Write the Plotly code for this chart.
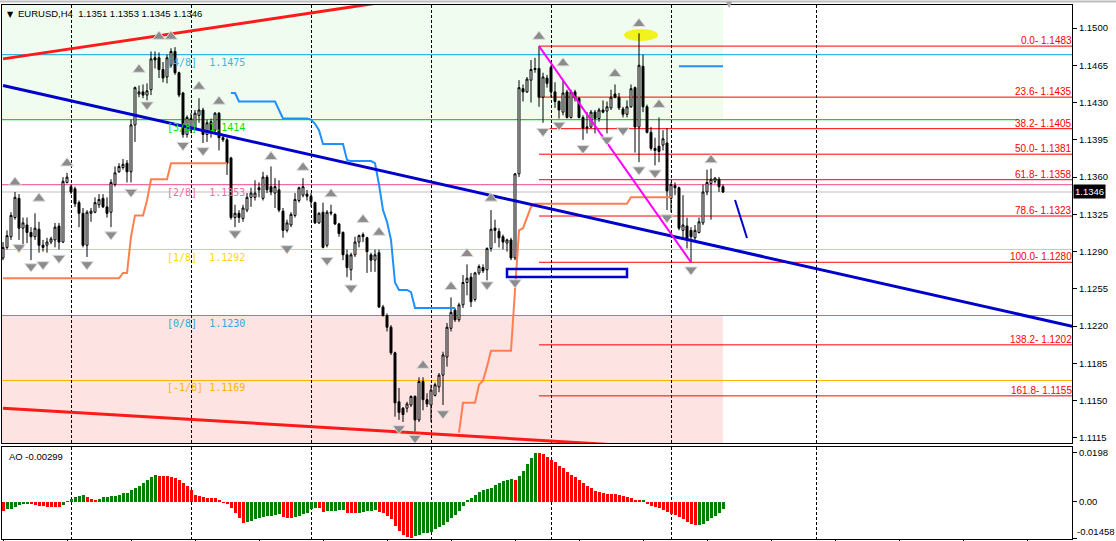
import plotly.graph_objects as go

# ---------------- data ----------------
bars = list(range(181))
opens = [1.1284,1.1294,1.1304,1.1322,1.1340,1.1312,1.1315,1.1308,1.1304,1.1311,
1.1296,1.1296,1.1299,1.1301,1.1314,1.1299,1.1355,1.1351,1.1349,1.1336,
1.1326,1.1296,1.1326,1.1327,1.1334,1.1340,1.1332,1.1327,1.1353,1.1365,
1.1369,1.1373,1.1365,1.1409,1.1438,1.1440,1.1437,1.1442,1.1472,1.1472,
1.1461,1.1454,1.1465,1.1478,1.1458,1.1439,1.1400,1.1404,1.1406,1.1418,
1.1423,1.1400,1.1412,1.1404,1.1420,1.1397,1.1395,1.1378,1.1322,1.1326,
1.1321,1.1329,1.1341,1.1341,1.1350,1.1340,1.1360,1.1351,1.1345,1.1348,
1.1328,1.1310,1.1315,1.1324,1.1338,1.1343,1.1344,1.1342,1.1336,1.1317,
1.1327,1.1296,1.1326,1.1325,1.1316,1.1308,1.1287,1.1273,1.1287,1.1299,
1.1306,1.1303,1.1287,1.1282,1.1289,1.1238,1.1230,1.1219,1.1195,1.1149,
1.1143,1.1143,1.1146,1.1154,1.1132,1.1168,1.1151,1.1146,1.1155,1.1163,
1.1174,1.1191,1.1218,1.1235,1.1226,1.1240,1.1261,1.1266,1.1245,1.1270,
1.1275,1.1273,1.1293,1.1312,1.1309,1.1304,1.1298,1.1301,1.1284,1.1363,
1.1443,1.1440,1.1451,1.1461,1.1462,1.1435,1.1453,1.1463,1.1440,1.1431,
1.1421,1.1440,1.1416,1.1440,1.1434,1.1416,1.1406,1.1407,1.1421,1.1415,
1.1423,1.1422,1.1425,1.1438,1.1435,1.1424,1.1419,1.1426,1.1444,1.1407,
1.1464,1.1426,1.1402,1.1387,1.1389,1.1390,1.1392,1.1340,1.1352,1.1350,
1.1310,1.1314,1.1310,1.1303,1.1308,1.1317,1.1346,1.1354,1.1356,1.1358,
1.1351]
highs = [1.1299,1.1310,1.1327,1.1346,1.1344,1.1322,1.1322,1.1313,1.1326,1.1318,
1.1301,1.1303,1.1304,1.1317,1.1317,1.1360,1.1364,1.1353,1.1351,1.1338,
1.1331,1.1329,1.1331,1.1341,1.1344,1.1344,1.1341,1.1358,1.1370,1.1373,
1.1377,1.1376,1.1414,1.1445,1.1446,1.1447,1.1448,1.1478,1.1478,1.1477,
1.1468,1.1475,1.1481,1.1482,1.1459,1.1440,1.1418,1.1420,1.1423,1.1434,
1.1425,1.1414,1.1415,1.1421,1.1421,1.1400,1.1397,1.1379,1.1334,1.1329,
1.1334,1.1345,1.1350,1.1357,1.1355,1.1365,1.1362,1.1370,1.1359,1.1357,
1.1331,1.1320,1.1327,1.1345,1.1351,1.1359,1.1348,1.1345,1.1337,1.1327,
1.1336,1.1329,1.1334,1.1326,1.1317,1.1309,1.1292,1.1289,1.1304,1.1306,
1.1308,1.1304,1.1289,1.1292,1.1292,1.1240,1.1232,1.1221,1.1196,1.1162,
1.1144,1.1149,1.1155,1.1155,1.1172,1.1172,1.1157,1.1165,1.1167,1.1176,
1.1196,1.1223,1.1247,1.1237,1.1242,1.1268,1.1278,1.1270,1.1271,1.1278,
1.1278,1.1294,1.1329,1.1320,1.1312,1.1306,1.1302,1.1303,1.1364,1.1451,
1.1447,1.1454,1.1470,1.1472,1.1483,1.1458,1.1456,1.1465,1.1449,1.1432,
1.1451,1.1442,1.1442,1.1442,1.1435,1.1418,1.1421,1.1423,1.1423,1.1425,
1.1432,1.1431,1.1442,1.1447,1.1439,1.1426,1.1432,1.1447,1.1445,1.1495,
1.1475,1.1428,1.1407,1.1397,1.1416,1.1404,1.1406,1.1355,1.1355,1.1351,
1.1343,1.1322,1.1313,1.1315,1.1322,1.1353,1.1367,1.1368,1.1360,1.1360,
1.1353]
lows = [1.1282,1.1292,1.1301,1.1320,1.1301,1.1294,1.1298,1.1282,1.1301,1.1289,
1.1290,1.1289,1.1297,1.1294,1.1292,1.1298,1.1354,1.1344,1.1332,1.1313,
1.1294,1.1285,1.1318,1.1326,1.1331,1.1331,1.1322,1.1313,1.1351,1.1364,
1.1367,1.1355,1.1355,1.1393,1.1435,1.1434,1.1432,1.1437,1.1462,1.1453,
1.1449,1.1448,1.1463,1.1456,1.1435,1.1397,1.1397,1.1401,1.1404,1.1411,
1.1392,1.1393,1.1397,1.1401,1.1385,1.1393,1.1362,1.1320,1.1313,1.1317,
1.1318,1.1327,1.1332,1.1338,1.1341,1.1338,1.1345,1.1343,1.1331,1.1327,
1.1303,1.1308,1.1313,1.1322,1.1336,1.1341,1.1338,1.1332,1.1316,1.1316,
1.1293,1.1294,1.1324,1.1315,1.1304,1.1282,1.1266,1.1263,1.1285,1.1294,
1.1299,1.1270,1.1271,1.1271,1.1237,1.1229,1.1215,1.1193,1.1135,1.1132,
1.1130,1.1139,1.1144,1.1121,1.1130,1.1141,1.1144,1.1130,1.1154,1.1158,
1.1146,1.1182,1.1215,1.1224,1.1224,1.1237,1.1249,1.1238,1.1243,1.1268,
1.1270,1.1263,1.1290,1.1298,1.1294,1.1292,1.1290,1.1282,1.1282,1.1360,
1.1431,1.1439,1.1430,1.1458,1.1426,1.1411,1.1444,1.1435,1.1425,1.1415,
1.1418,1.1415,1.1415,1.1431,1.1415,1.1395,1.1401,1.1406,1.1401,1.1412,
1.1420,1.1401,1.1423,1.1434,1.1423,1.1416,1.1416,1.1425,1.1383,1.1374,
1.1421,1.1401,1.1385,1.1371,1.1374,1.1385,1.1329,1.1327,1.1343,1.1310,
1.1303,1.1293,1.1280,1.1301,1.1307,1.1315,1.1343,1.1320,1.1354,1.1346,
1.1345]
closes = [1.1294,1.1305,1.1324,1.1341,1.1312,1.1317,1.1308,1.1304,1.1312,1.1296,
1.1294,1.1299,1.1302,1.1313,1.1299,1.1356,1.1360,1.1346,1.1335,1.1326,
1.1296,1.1327,1.1328,1.1336,1.1339,1.1332,1.1326,1.1355,1.1364,1.1370,
1.1372,1.1365,1.1409,1.1444,1.1440,1.1437,1.1441,1.1471,1.1470,1.1461,
1.1453,1.1472,1.1478,1.1458,1.1437,1.1400,1.1416,1.1415,1.1420,1.1423,
1.1400,1.1411,1.1402,1.1420,1.1397,1.1395,1.1373,1.1322,1.1326,1.1322,
1.1331,1.1341,1.1345,1.1345,1.1348,1.1360,1.1348,1.1346,1.1351,1.1329,
1.1310,1.1317,1.1325,1.1339,1.1350,1.1351,1.1342,1.1337,1.1317,1.1326,
1.1294,1.1327,1.1327,1.1316,1.1307,1.1287,1.1275,1.1287,1.1299,1.1305,
1.1304,1.1290,1.1282,1.1287,1.1238,1.1230,1.1219,1.1195,1.1148,1.1139,
1.1137,1.1147,1.1154,1.1132,1.1168,1.1151,1.1147,1.1160,1.1165,1.1174,
1.1193,1.1219,1.1233,1.1226,1.1240,1.1261,1.1265,1.1243,1.1270,1.1276,
1.1272,1.1293,1.1311,1.1310,1.1303,1.1299,1.1301,1.1284,1.1363,1.1444,
1.1440,1.1452,1.1461,1.1462,1.1435,1.1454,1.1448,1.1440,1.1431,1.1423,
1.1439,1.1416,1.1440,1.1434,1.1416,1.1406,1.1407,1.1421,1.1415,1.1423,
1.1421,1.1426,1.1435,1.1435,1.1425,1.1419,1.1426,1.1443,1.1407,1.1465,
1.1426,1.1402,1.1387,1.1385,1.1384,1.1396,1.1347,1.1353,1.1350,1.1312,
1.1315,1.1301,1.1304,1.1310,1.1318,1.1346,1.1355,1.1358,1.1359,1.1351,
1.1346]

ao = [-0.00340,-0.00283,-0.00269,-0.00212,-0.00127,-0.00071,-0.00042,-0.00071,-0.00113,-0.00156,
-0.00170,-0.00184,-0.00191,-0.00198,-0.00205,-0.00127,0.00014,0.00113,0.00184,0.00255,
0.00283,0.00184,0.00113,0.00099,0.00127,0.00212,0.00219,0.00226,0.00255,0.00297,
0.00354,0.00368,0.00467,0.00580,0.00637,0.00778,0.00891,0.01005,0.01090,0.01047,
0.01040,0.01033,0.01019,0.00976,0.00891,0.00778,0.00637,0.00467,0.00297,0.00241,
0.00198,0.00163,0.00156,0.00142,0.00071,-0.00014,-0.00099,-0.00241,-0.00439,-0.00637,
-0.00835,-0.00807,-0.00750,-0.00693,-0.00651,-0.00608,-0.00566,-0.00552,-0.00538,-0.00495,
-0.00594,-0.00623,-0.00637,-0.00608,-0.00566,-0.00481,-0.00425,-0.00283,-0.00241,-0.00255,
-0.00382,-0.00368,-0.00354,-0.00340,-0.00333,-0.00325,-0.00425,-0.00439,-0.00453,-0.00425,
-0.00396,-0.00368,-0.00340,-0.00311,-0.00382,-0.00453,-0.00552,-0.00693,-0.00948,-0.01160,
-0.01302,-0.01415,-0.01458,-0.01373,-0.01316,-0.01259,-0.01231,-0.01203,-0.01090,-0.01019,
-0.00920,-0.00807,-0.00623,-0.00524,-0.00340,-0.00170,0.00071,0.00142,0.00297,0.00382,
0.00467,0.00509,0.00566,0.00679,0.00750,0.00821,0.00891,0.00920,0.00891,0.01033,
0.01245,0.01528,0.01769,0.01980,0.01953,0.01910,0.01811,0.01698,0.01585,0.01457,
0.01344,0.01203,0.01061,0.00991,0.00891,0.00750,0.00651,0.00566,0.00439,0.00382,
0.00354,0.00340,0.00325,0.00311,0.00269,0.00241,0.00184,0.00142,0.00099,0.00071,
0.00085,-0.00042,-0.00142,-0.00184,-0.00241,-0.00311,-0.00382,-0.00467,-0.00524,-0.00594,
-0.00693,-0.00807,-0.00877,-0.00920,-0.00906,-0.00863,-0.00764,-0.00637,-0.00552,-0.00453,
-0.00299]

# coral trailing-stop style line (None = not drawn)
orange_line = [1.1265,1.1265,1.1265,1.1265,1.1265,1.1265,1.1265,1.1265,1.1265,1.1265,
1.1265,1.1265,1.1265,1.1265,1.1265,1.1265,1.1265,1.1265,1.1265,1.1265,
1.1265,1.1265,1.1265,1.1265,1.1265,1.1265,1.1265,1.1265,1.1265,1.1265,
1.1270,1.1270,1.1304,1.1324,1.1324,1.1324,1.1338,1.1358,1.1358,1.1358,
1.1358,1.1358,1.1373,1.1373,1.1373,1.1373,1.1373,1.1373,1.1373,1.1373,
1.1373,1.1373,1.1373,1.1373,1.1373,1.1373,1.1373,None,None,None,
None,None,None,None,None,None,None,None,None,None,
None,None,None,None,None,None,None,None,None,None,
None,None,None,None,None,None,None,None,None,None,
None,None,None,None,None,None,None,None,None,None,
None,None,None,None,None,None,None,None,None,None,
None,None,None,None,1.1120,1.1148,1.1148,1.1148,1.1148,1.1165,
1.1169,1.1182,1.1197,1.1197,1.1197,1.1197,1.1197,1.1197,1.1254,1.1310,
1.1312,1.1323,1.1332,1.1335,1.1335,1.1335,1.1335,1.1335,1.1335,1.1335,
1.1335,1.1335,1.1335,1.1335,1.1335,1.1335,1.1335,1.1335,1.1335,1.1335,
1.1335,1.1335,1.1335,1.1335,1.1335,1.1335,1.1335,1.1341,1.1341,1.1341,
1.1341,1.1341,1.1341,1.1341,1.1341,1.1341,1.1341,1.1341,None,None,
None,None,None,None,None,None,None,None,None,None,
None]
# dodger-blue step line
blue_step = [None,None,None,None,None,None,None,None,None,None,
None,None,None,None,None,None,None,None,None,None,
None,None,None,None,None,None,None,None,None,None,
None,None,None,None,None,None,None,None,None,None,
None,None,None,None,None,None,None,None,None,None,
None,None,None,None,None,None,None,1.1439,1.1439,1.1431,
1.1431,1.1431,1.1431,1.1431,1.1431,1.1431,1.1431,1.1431,1.1431,1.1423,
1.1415,1.1415,1.1415,1.1415,1.1415,1.1415,1.1415,1.1414,1.1410,1.1404,
1.1391,1.1391,1.1391,1.1391,1.1391,1.1391,1.1376,1.1375,1.1375,1.1375,
1.1375,1.1375,1.1375,1.1373,1.1353,1.1329,1.1318,1.1301,1.1261,1.1254,
1.1254,1.1254,1.1252,1.1237,1.1237,1.1237,1.1237,1.1237,1.1237,1.1237,
1.1237,1.1237,1.1237,1.1237,None,None,None,None,None,None,
None,None,None,None,None,None,None,None,None,None,
None,None,None,None,None,None,None,None,None,None,
None,None,None,None,None,None,None,None,None,None,
None,None,None,None,None,None,None,None,None,None,
None,None,None,None,None,None,None,None,None,1.1464,
1.1464,1.1464,1.1464,1.1464,1.1464,1.1464,1.1464,1.1464,1.1464,1.1464,
1.1464]

up_fractal_bar = [3,9,16,34,39,42,49,54,67,75,82,90,94,105,112,116,122,134,140,153,159,164,177]
up_fractal_px = [1.1355,1.1340,1.1373,1.1461,1.1492,1.1492,1.1445,1.1431,1.1379,1.1369,1.1344,
                 1.1320,1.1308,1.1183,1.1257,1.1288,1.1340,1.1492,1.1467,1.1457,1.1504,1.1428,1.1376]
dn_fractal_bar = [4,7,10,14,21,27,32,36,45,50,58,71,81,87,99,103,110,121,128,135,139,145,151,155,159,163,166,172]
dn_fractal_px = [1.1294,1.1276,1.1278,1.1284,1.1278,1.1306,1.1346,1.1428,1.1390,1.1385,1.1307,
                 1.1293,1.1282,1.1256,1.1124,1.1115,1.1138,1.1259,1.1261,1.1403,1.1409,1.1387,
                 1.1395,1.1404,1.1367,1.1364,1.1322,1.1273]

murrey_names = ["[-1/8]", "[0/8]", "[1/8]", "[2/8]", "[3/8]", "[4/8]"]
murrey_prices = [1.1169, 1.1230, 1.1292, 1.1353, 1.1414, 1.1475]
murrey_colors = ["#ffb300", "#2fa8dc", "#ffd700", "#f06ca4", "#00e600", "#3ab4e4"]

fib_high, fib_low = 1.1483, 1.1280
fib_high_bar, fib_low_bar = 134, 172
fib_ratios = [0.0, 23.6, 38.2, 50.0, 61.8, 78.6, 100.0, 138.2, 161.8]

grid_bars = [17, 47, 77, 107, 137, 167, 203.25]
time_tick_bars = list(range(0, 268, 16))
price_ticks = [1.1115, 1.1150, 1.1185, 1.1220, 1.1255, 1.1290, 1.1325,
               1.1360, 1.1395, 1.1430, 1.1465, 1.1500]
ao_max_label, ao_min_label = 0.0198, -0.01458
last_price = 1.1346

red_up_line = ([0, 100], [1.1471, 1.1527])
red_dn_line = ([0, 160], [1.1143, 1.1107])
blue_trend = ([0, 270], [1.1446, 1.12176])
blue_short = ([183, 186], [1.13385, 1.13028])
green_zone_top, red_zone_bottom = 1.1414, 1.1230
zone_end_bar = 180
ellipse_bars = (155.25, 163.75)
ellipse_px = (1.14878, 1.14991)
box_bars = (126, 156)
box_px = (1.12662, 1.12737)
murrey_green_end = 254

XMIN, XMAX = -0.25, 267.25
PMIN, PMAX = 1.11103, 1.15216
AOMIN, AOMAX = -0.0148, 0.0220

FONT = "Liberation Sans"
MONO = "DejaVu Sans Mono"

fig = go.Figure()

# candles
fig.add_trace(go.Candlestick(
    x=bars, open=opens, high=highs, low=lows, close=closes,
    increasing=dict(line=dict(color="black", width=1), fillcolor="white"),
    decreasing=dict(line=dict(color="black", width=1), fillcolor="black"),
    whiskerwidth=0, showlegend=False, hoverinfo="skip", xaxis="x", yaxis="y"))

fig.add_trace(go.Scatter(x=bars, y=orange_line, mode="lines", connectgaps=False,
                         line=dict(color="#ff7f50", width=2), showlegend=False, hoverinfo="skip"))
fig.add_trace(go.Scatter(x=bars, y=blue_step, mode="lines", connectgaps=False,
                         line=dict(color="#1e90ff", width=2), showlegend=False, hoverinfo="skip"))

for xs, ys, col, w in [(red_up_line[0], red_up_line[1], "#ff1a1a", 3),
                       (red_dn_line[0], red_dn_line[1], "#ff1a1a", 3),
                       (blue_trend[0], blue_trend[1], "#0000cc", 3),
                       (blue_short[0], blue_short[1], "#0000cc", 2),
                       ([fib_high_bar, fib_low_bar], [fib_high, fib_low], "#ff00ff", 2)]:
    fig.add_trace(go.Scatter(x=xs, y=ys, mode="lines", line=dict(color=col, width=w),
                             showlegend=False, hoverinfo="skip"))

fig.add_trace(go.Scatter(x=up_fractal_bar, y=up_fractal_px, mode="markers",
                         marker=dict(symbol="triangle-up", size=11, color="#8c8c8c",
                                     line=dict(color="#dcdcdc", width=1)),
                         showlegend=False, hoverinfo="skip"))
fig.add_trace(go.Scatter(x=dn_fractal_bar, y=dn_fractal_px, mode="markers",
                         marker=dict(symbol="triangle-down", size=11, color="#8c8c8c",
                                     line=dict(color="#dcdcdc", width=1)),
                         showlegend=False, hoverinfo="skip"))

# AO histogram: green when the value rises versus the previous bar, red otherwise
ao_colors = [("#008000" if i > 0 and ao[i] > ao[i - 1] else "#ff0000") for i in range(len(ao))]
fig.add_trace(go.Bar(x=bars, y=ao, marker=dict(color=ao_colors, line=dict(width=0)),
                     width=0.75, offset=-0.25, xaxis="x2", yaxis="y2",
                     showlegend=False, hoverinfo="skip"))

shapes = []
# zones
shapes.append(dict(type="rect", xref="x", yref="y", x0=XMIN, x1=zone_end_bar,
                   y0=green_zone_top, y1=PMAX, fillcolor="#effcef", line=dict(width=0), layer="below"))
shapes.append(dict(type="rect", xref="x", yref="y", x0=XMIN, x1=zone_end_bar,
                   y0=PMIN, y1=red_zone_bottom, fillcolor="#fee3e3", line=dict(width=0), layer="below"))
shapes.append(dict(type="circle", xref="x", yref="y", x0=ellipse_bars[0], x1=ellipse_bars[1],
                   y0=ellipse_px[0], y1=ellipse_px[1], fillcolor="#f2f21e", line=dict(width=0), layer="below"))
# murrey lines
for n, p, c in zip(murrey_names, murrey_prices, murrey_colors):
    x1 = murrey_green_end if n == "[3/8]" else XMAX
    shapes.append(dict(type="line", xref="x", yref="y", x0=XMIN, x1=x1, y0=p, y1=p,
                       line=dict(color=c, width=1.2), layer="below"))
shapes.append(dict(type="line", xref="x", yref="y", x0=XMIN, x1=XMAX, y0=last_price, y1=last_price,
                   line=dict(color="#c0c0c0", width=1), layer="below"))
# fib lines
for r in fib_ratios:
    p = fib_high - r / 100.0 * (fib_high - fib_low)
    shapes.append(dict(type="line", xref="x", yref="y", x0=fib_high_bar, x1=XMAX, y0=p, y1=p,
                       line=dict(color="#ff0000", width=1), layer="below"))
# box
shapes.append(dict(type="rect", xref="x", yref="y", x0=box_bars[0], x1=box_bars[1],
                   y0=box_px[0], y1=box_px[1], line=dict(color="#0000cc", width=2.5),
                   fillcolor="rgba(0,0,0,0)", layer="above"))
# window top strip
shapes.append(dict(type="line", xref="paper", yref="paper", x0=-0.01, x1=1.05, y0=1.0065, y1=1.0065,
                   line=dict(color="#bdbdbd", width=2)))

ann = []
for n, p, c in zip(murrey_names, murrey_prices, murrey_colors):
    txt = n + "\u00a0" * (7 - len(n)) + f"{p:.4f}"
    ann.append(dict(x=40.5, y=p, xref="x", yref="y", text=txt, showarrow=False,
                    xanchor="left", yanchor="top", font=dict(family=MONO, size=10, color=c)))
for r in fib_ratios:
    p = fib_high - r / 100.0 * (fib_high - fib_low)
    ann.append(dict(x=1, y=p, xref="paper", yref="y", text=f"{r:.1f}- {p:.4f}", showarrow=False,
                    xanchor="right", yanchor="bottom", yshift=-2, xshift=2,
                    font=dict(family=FONT, size=10, color="#ff0000")))
ann.append(dict(x=0.003, y=1, xref="paper", yref="paper", text="\u25bc", showarrow=False,
                xanchor="left", yanchor="top", yshift=-3, font=dict(family="DejaVu Sans", size=8, color="black")))
ann.append(dict(x=0.013, y=1, xref="paper", yref="paper",
                text=f"EURUSD,H4  {opens[-1]:.4f} {highs[-1]:.4f} {lows[-1]:.4f} {closes[-1]:.4f}",
                showarrow=False, xanchor="left", yanchor="top", yshift=-1,
                font=dict(family=FONT, size=9.5, color="black")))
ann.append(dict(x=0.005, y=1, xref="paper", yref="y2 domain", text=f"AO {ao[-1]:.5f}",
                showarrow=False, xanchor="left", yanchor="top", yshift=-2,
                font=dict(family=FONT, size=9.5, color="black")))
ann.append(dict(x=1, y=last_price, xref="paper", yref="y", text=f"{last_price:.4f}", showarrow=False,
                xanchor="left", yanchor="middle", xshift=1, bgcolor="black", borderpad=1,
                font=dict(family=FONT, size=9.5, color="white")))
ann.append(dict(x=1, y=0, xref="paper", yref="y2 domain", text=f"{ao_min_label:.5f}", showarrow=False,
                xanchor="left", yanchor="bottom", xshift=3, yshift=0,
                font=dict(family=FONT, size=9.5, color="black")))
ann.append(dict(x=181.5, y=1, xref="x", yref="paper", text="\u25bc", showarrow=False,
                yanchor="middle", yshift=1, font=dict(family="DejaVu Sans", size=8, color="#a8a8a8")))

grid_style = dict(showgrid=True, gridcolor="black", gridwidth=1, griddash="3px,2px")

fig.update_layout(
    width=1116, height=541,
    margin=dict(l=2, r=44, t=5, b=2),
    paper_bgcolor="white", plot_bgcolor="white",
    showlegend=False, bargap=0,
    shapes=shapes, annotations=ann,
    xaxis=dict(domain=[0, 1], range=[XMIN, XMAX], anchor="y", showticklabels=False, ticks="",
               tickvals=grid_bars, showline=True, mirror=True, linecolor="black", linewidth=1,
               zeroline=False, rangeslider=dict(visible=False), **grid_style),
    yaxis=dict(domain=[0.1798, 1], range=[PMIN, PMAX], side="right", tickvals=price_ticks,
               ticktext=[f"{v:.4f}" for v in price_ticks], ticks="outside", ticklen=4,
               tickcolor="black", showline=True, mirror=True, linecolor="black", linewidth=1,
               showgrid=False, zeroline=False, tickfont=dict(family=FONT, size=9.5, color="black")),
    xaxis2=dict(domain=[0, 1], range=[XMIN, XMAX], anchor="y2", matches="x", showticklabels=False,
                ticks="", tickvals=grid_bars,
                minor=dict(tickvals=time_tick_bars, ticks="outside", ticklen=3, tickcolor="black",
                           showgrid=False),
                showline=True, mirror=True, linecolor="black", linewidth=1,
                zeroline=False, **grid_style),
    yaxis2=dict(domain=[0, 0.1723], range=[AOMIN, AOMAX], side="right",
                tickvals=[ao_max_label, 0.0, ao_min_label], ticktext=[f"{ao_max_label:.4f}", "0.00", ""],
                ticks="outside", ticklen=4, tickcolor="black", showline=True, mirror=True,
                linecolor="black", linewidth=1, showgrid=False, zeroline=False,
                tickfont=dict(family=FONT, size=9.5, color="black")),
)

fig.write_html("out.html", config={"displayModeBar": False},
               post_script="document.body.style.margin='0px';")
